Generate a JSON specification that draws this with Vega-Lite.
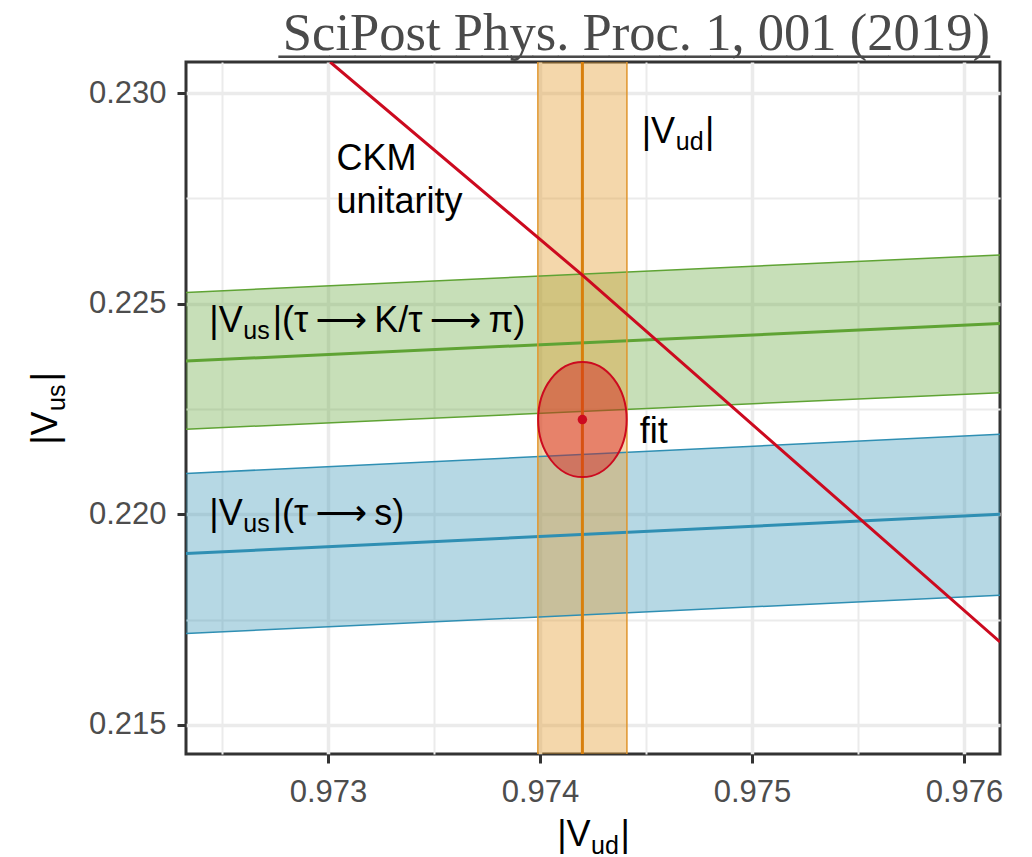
{
  "$schema": "https://vega.github.io/schema/vega-lite/v6.json",
  "width": 814,
  "height": 692,
  "autosize": {"type": "none"},
  "padding": {"left": 186, "top": 62, "right": 32, "bottom": 103},
  "background": "white",
  "config": {
    "font": "Liberation Sans",
    "view": {"stroke": "#333333", "strokeWidth": 3}
  },
  "title": {
    "text": "SciPost Phys. Proc. 1, 001 (2019)",
    "subtitle": "____________________________",
    "orient": "top",
    "anchor": "end",
    "frame": "group",
    "font": "Liberation Serif",
    "fontSize": 52.6,
    "fontWeight": "normal",
    "color": "#4a4a4a",
    "subtitleFont": "Liberation Serif",
    "subtitleFontSize": 50.8,
    "subtitleColor": "#4a4a4a",
    "subtitlePadding": -50,
    "offset": 12,
    "dx": -10,
    "dy": 12
  },
  "datasets": {
    "bands": [
      {"band": "green", "vud": 0.97233, "lo": 0.22202, "mid": 0.22364, "hi": 0.22527},
      {"band": "green", "vud": 0.97617, "lo": 0.22289, "mid": 0.22453, "hi": 0.22616},
      {"band": "blue", "vud": 0.97233, "lo": 0.21717, "mid": 0.21907, "hi": 0.22097},
      {"band": "blue", "vud": 0.97617, "lo": 0.21808, "mid": 0.22000, "hi": 0.22190}
    ],
    "vud": [
      {"vud": 0.97420, "lo": 0.97399, "hi": 0.97441}
    ],
    "unitarity": [
      {"vud": 0.97301, "vus": 0.23074},
      {"vud": 0.97420, "vus": 0.22568},
      {"vud": 0.97617, "vus": 0.21697}
    ],
    "fit": [
      {"vud": 0.97420, "vus": 0.22225}
    ],
    "labels": [
      {"vud": 0.97448, "vus": 0.22881, "text": "|V\u00a0\u00a0\u00a0|", "sub": "ud"},
      {"vud": 0.97304, "vus": 0.22817, "text": "CKM", "sub": ""},
      {"vud": 0.97304, "vus": 0.22716, "text": "unitarity", "sub": ""},
      {"vud": 0.97244, "vus": 0.22432, "text": "|V\u00a0\u00a0\u00a0|(τ\u2009⟶\u2009K/τ\u2009⟶\u2009π)", "sub": "us"},
      {"vud": 0.97447, "vus": 0.22170, "text": "fit", "sub": ""},
      {"vud": 0.97244, "vus": 0.21974, "text": "|V\u00a0\u00a0\u00a0|(τ\u2009⟶\u2009s)", "sub": "us"}
    ]
  },
  "resolve": {"axis": {"x": "independent", "y": "independent"}},
  "layer": [
    {
      "data": {"name": "bands"},
      "mark": {"type": "area", "opacity": 0.35, "clip": true},
      "encoding": {
        "x": {
          "field": "vud", "type": "quantitative",
          "scale": {"domain": [0.97233, 0.97617], "nice": false, "zero": false},
          "axis": {
            "orient": "bottom",
            "values": [0.973, 0.974, 0.975, 0.976],
            "format": ".3f",
            "grid": true, "gridColor": "#ebebeb", "gridWidth": 3.5,
            "domain": false,
            "ticks": true, "tickSize": 9, "tickWidth": 3, "tickColor": "#333333",
            "labelFont": "Liberation Sans", "labelFontSize": 31, "labelColor": "#4d4d4d",
            "labelPadding": 38, "labelBaseline": "alphabetic", "labelFlush": false, "labelOverlap": false,
            "title": "|V\u00a0\u00a0\u00a0|",
            "titleFont": "Liberation Sans", "titleFontSize": 36, "titleFontWeight": "normal", "titleColor": "#000000",
            "titleX": 407, "titleY": 91, "titleAlign": "center", "titleBaseline": "alphabetic"
          }
        },
        "y": {
          "field": "lo", "type": "quantitative",
          "scale": {"domain": [0.21431, 0.23074], "nice": false, "zero": false},
          "axis": {
            "orient": "left",
            "values": [0.215, 0.22, 0.225, 0.23],
            "format": ".3f",
            "grid": true, "gridColor": "#ebebeb", "gridWidth": 3.5,
            "domain": false,
            "ticks": true, "tickSize": 9, "tickWidth": 3, "tickColor": "#333333",
            "labelFont": "Liberation Sans", "labelFontSize": 31, "labelColor": "#4d4d4d",
            "labelPadding": 11, "labelBaseline": "middle", "labelFlush": false, "labelOverlap": false,
            "title": "|V\u00a0\u00a0\u00a0|",
            "titleFont": "Liberation Sans", "titleFontSize": 36, "titleFontWeight": "normal", "titleColor": "#000000",
            "titleX": -130, "titleY": 346, "titleAngle": 270, "titleAlign": "center", "titleBaseline": "alphabetic"
          }
        },
        "y2": {"field": "hi"},
        "color": {
          "field": "band", "type": "nominal",
          "scale": {"domain": ["green", "blue"], "range": ["#5fa334", "#2f8fb3"]},
          "legend": null
        }
      }
    },
    {
      "data": {"name": "vud"},
      "mark": {"type": "rect", "color": "#e49b2e", "opacity": 0.4},
      "encoding": {
        "x": {"field": "lo", "type": "quantitative", "axis": null},
        "x2": {"field": "hi"}
      }
    },
    {
      "data": {"name": "bands"},
      "mark": {"type": "line", "strokeWidth": 1.5, "clip": true},
      "encoding": {
        "x": {
          "field": "vud", "type": "quantitative",
          "axis": {
            "orient": "top",
            "values": [0.9725, 0.9735, 0.9745, 0.9755],
            "grid": true, "gridColor": "#ebebeb", "gridWidth": 2,
            "domain": false, "ticks": false, "labels": false, "title": null
          }
        },
        "y": {
          "field": "lo", "type": "quantitative",
          "axis": {
            "orient": "right",
            "values": [0.2175, 0.2225, 0.2275],
            "grid": true, "gridColor": "#ebebeb", "gridWidth": 2,
            "domain": false, "ticks": false, "labels": false, "title": null
          }
        },
        "color": {
          "field": "band", "type": "nominal",
          "scale": {"domain": ["green", "blue"], "range": ["#4e9a1e", "#1f86aa"]},
          "legend": null
        }
      }
    },
    {
      "data": {"name": "bands"},
      "mark": {"type": "line", "strokeWidth": 1.5, "clip": true},
      "encoding": {
        "x": {
          "field": "vud", "type": "quantitative",
          "axis": {
            "orient": "bottom",
            "grid": false, "domain": false, "ticks": false, "labels": false,
            "title": "ud",
            "titleFont": "Liberation Sans", "titleFontSize": 25, "titleFontWeight": "normal", "titleColor": "#000000",
            "titleX": 404.5, "titleY": 99, "titleAlign": "left", "titleBaseline": "alphabetic"
          }
        },
        "y": {
          "field": "hi", "type": "quantitative",
          "axis": {
            "orient": "left",
            "grid": false, "domain": false, "ticks": false, "labels": false,
            "title": "us",
            "titleFont": "Liberation Sans", "titleFontSize": 25, "titleFontWeight": "normal", "titleColor": "#000000",
            "titleX": -122, "titleY": 348.5, "titleAngle": 270, "titleAlign": "left", "titleBaseline": "alphabetic"
          }
        },
        "color": {"field": "band", "type": "nominal", "legend": null}
      }
    },
    {
      "data": {"name": "bands"},
      "mark": {"type": "line", "strokeWidth": 3, "clip": true},
      "encoding": {
        "x": {"field": "vud", "type": "quantitative", "axis": null},
        "y": {"field": "mid", "type": "quantitative", "axis": null},
        "color": {"field": "band", "type": "nominal", "legend": null}
      }
    },
    {
      "data": {"name": "vud"},
      "mark": {"type": "rule", "color": "#e0952c", "strokeWidth": 1.5},
      "encoding": {"x": {"field": "lo", "type": "quantitative", "axis": null}}
    },
    {
      "data": {"name": "vud"},
      "mark": {"type": "rule", "color": "#e0952c", "strokeWidth": 1.5},
      "encoding": {"x": {"field": "hi", "type": "quantitative", "axis": null}}
    },
    {
      "data": {"name": "vud"},
      "mark": {"type": "rule", "color": "#d87f0c", "strokeWidth": 3},
      "encoding": {"x": {"field": "vud", "type": "quantitative", "axis": null}}
    },
    {
      "data": {"name": "unitarity"},
      "mark": {"type": "line", "color": "#cc0a1f", "strokeWidth": 3, "clip": true},
      "encoding": {
        "x": {"field": "vud", "type": "quantitative", "axis": null},
        "y": {"field": "vus", "type": "quantitative", "axis": null}
      }
    },
    {
      "data": {"name": "fit"},
      "mark": {
        "type": "point",
        "shape": "M 0 -1 C 0.4253 -1 0.77 -0.5523 0.77 0 C 0.77 0.5523 0.4253 1 0 1 C -0.4253 1 -0.77 0.5523 -0.77 0 C -0.77 -0.5523 -0.4253 -1 0 -1 Z",
        "size": 13225,
        "filled": true,
        "fill": "#d81b1b",
        "fillOpacity": 0.45,
        "stroke": "#cc0a1f",
        "strokeWidth": 2,
        "strokeOpacity": 1,
        "opacity": 1
      },
      "encoding": {
        "x": {"field": "vud", "type": "quantitative", "axis": null},
        "y": {"field": "vus", "type": "quantitative", "axis": null}
      }
    },
    {
      "data": {"name": "fit"},
      "mark": {"type": "point", "shape": "circle", "size": 90, "filled": true, "color": "#cc0a1f", "opacity": 1},
      "encoding": {
        "x": {"field": "vud", "type": "quantitative", "axis": null},
        "y": {"field": "vus", "type": "quantitative", "axis": null}
      }
    },
    {
      "data": {"name": "labels"},
      "mark": {"type": "text", "align": "left", "baseline": "alphabetic", "font": "Liberation Sans, DejaVu Sans", "fontSize": 36, "color": "#000000"},
      "encoding": {
        "x": {"field": "vud", "type": "quantitative", "axis": null},
        "y": {"field": "vus", "type": "quantitative", "axis": null},
        "text": {"field": "text"}
      }
    },
    {
      "data": {"name": "labels"},
      "mark": {"type": "text", "align": "left", "baseline": "alphabetic", "font": "Liberation Sans", "fontSize": 25, "color": "#000000", "dx": 34, "dy": 7},
      "encoding": {
        "x": {"field": "vud", "type": "quantitative", "axis": null},
        "y": {"field": "vus", "type": "quantitative", "axis": null},
        "text": {"field": "sub"}
      }
    }
  ]
}
